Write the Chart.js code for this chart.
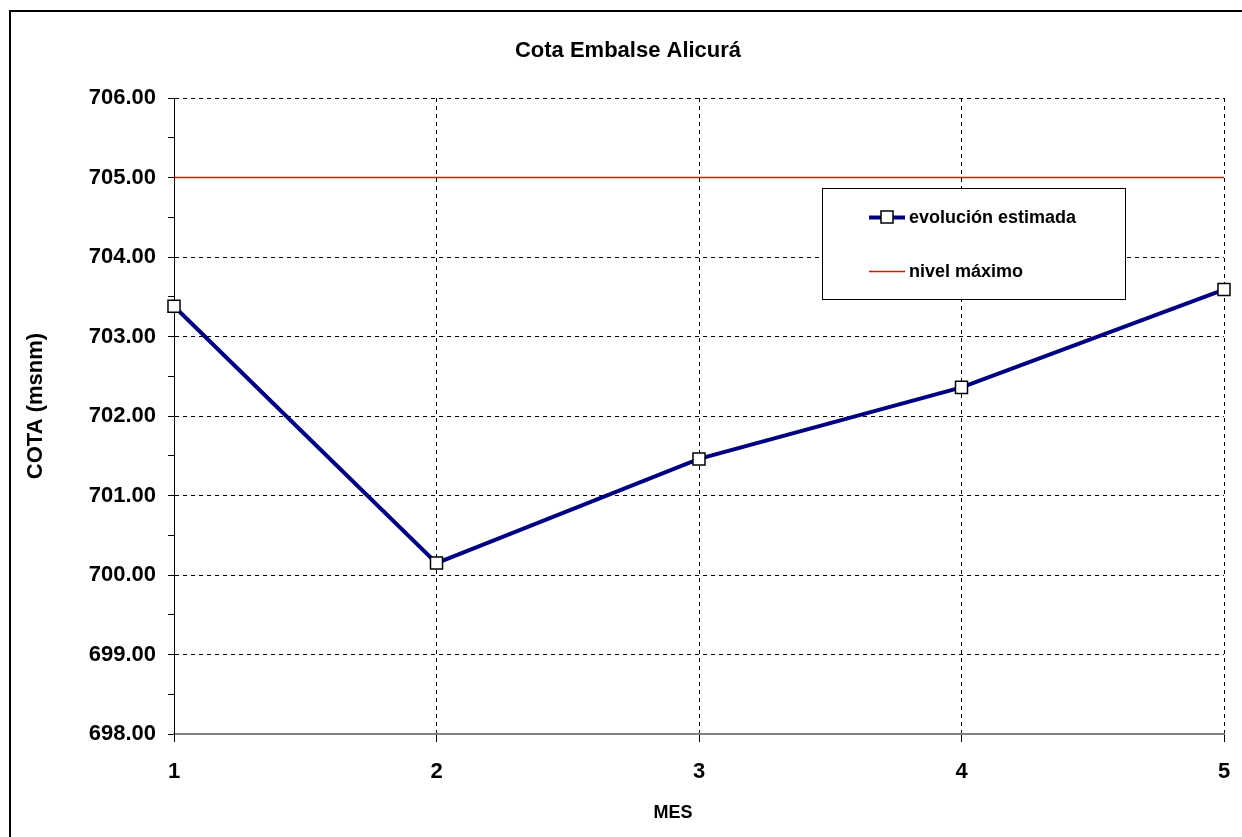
<!DOCTYPE html>
<html>
<head>
<meta charset="utf-8">
<script src="https://cdn.jsdelivr.net/npm/chart.js@4/dist/chart.umd.min.js"></script>
<style>
  html, body { margin: 0; padding: 0; background: #fff; overflow: hidden; }
  canvas { display: block; }
</style>
</head>
<body>
<canvas id="cotaChart" width="1242" height="837"></canvas>
<script>
// Monthly reservoir level (m.s.n.m.)
const meses = ['1', '2', '3', '4', '5'];
const evolucionEstimada = [703.38, 700.15, 701.46, 702.36, 703.59];
const nivelMaximo = [705, 705, 705, 705, 705];
const yMin = 698;
const yMax = 706;

const FONT = "'Liberation Sans', Arial, sans-serif";
Chart.defaults.font.family = FONT;
Chart.defaults.color = '#000';

/**
 * Outer frame, titles and the boxed legend
 */
const decorations = {
  id: 'decorations',
  beforeDraw(chart) {
    const { ctx } = chart;
    ctx.save();
    ctx.fillStyle = '#fff';
    ctx.fillRect(0, 0, chart.width, chart.height);
    ctx.strokeStyle = '#000';
    ctx.lineWidth = 2;
    ctx.beginPath();
    ctx.moveTo(10, chart.height + 5);
    ctx.lineTo(10, 11);
    ctx.lineTo(chart.width + 5, 11);
    ctx.stroke();
    ctx.restore();
  },
  afterDraw(chart) {
    const { ctx } = chart;
    ctx.save();
    ctx.fillStyle = '#000';
    ctx.textAlign = 'center';
    ctx.textBaseline = 'middle';

    ctx.font = `bold 22px ${FONT}`;
    ctx.fillText('Cota Embalse Alicurá', 628, 51);

    ctx.font = `bold 18px ${FONT}`;
    ctx.fillText('MES', 673, 813);

    ctx.save();
    ctx.translate(36, 406);
    ctx.rotate(-Math.PI / 2);
    ctx.font = `bold 22px ${FONT}`;
    ctx.fillText('COTA (msnm)', 0, 0);
    ctx.restore();

    // legend box
    const box = { x: 822, y: 188, w: 303, h: 111 };
    ctx.fillStyle = '#fff';
    ctx.fillRect(box.x, box.y, box.w, box.h);
    ctx.strokeStyle = '#000';
    ctx.lineWidth = 1;
    ctx.strokeRect(box.x + 0.5, box.y + 0.5, box.w, box.h);

    const rows = [217, 271];
    chart.data.datasets.forEach((ds, i) => {
      const y = rows[i];
      ctx.strokeStyle = ds.borderColor;
      ctx.lineWidth = ds.borderWidth;
      ctx.beginPath();
      ctx.moveTo(869, y + 0.5);
      ctx.lineTo(905, y + 0.5);
      ctx.stroke();
      if (ds.pointRadius > 0) {
        ctx.fillStyle = ds.pointBackgroundColor;
        ctx.fillRect(881, y - 6, 12, 12);
        ctx.strokeStyle = ds.pointBorderColor;
        ctx.lineWidth = 1.5;
        ctx.strokeRect(881, y - 6, 12, 12);
      }
      ctx.fillStyle = '#000';
      ctx.textAlign = 'left';
      ctx.font = `bold 18px ${FONT}`;
      ctx.fillText(ds.label, 909, y + 1);
    });
    ctx.restore();
  }
};

new Chart(document.getElementById('cotaChart'), {
  type: 'line',
  data: {
    labels: meses,
    datasets: [
      {
        label: 'evolución estimada',
        data: evolucionEstimada,
        borderColor: '#000080',
        borderWidth: 4,
        tension: 0,
        pointStyle: 'rect',
        pointRadius: 8.5,
        pointBackgroundColor: '#fff',
        pointBorderColor: '#000',
        pointBorderWidth: 1.5,
        order: 1,
      },
      {
        label: 'nivel máximo',
        data: nivelMaximo,
        borderColor: '#ff0000',
        borderWidth: 1.5,
        pointRadius: 0,
        tension: 0,
        order: 2,
      },
    ],
  },
  options: {
    responsive: false,
    animation: false,
    layout: { padding: { left: 0, right: 18, top: 98, bottom: 0 } },
    plugins: {
      legend: { display: false },
      title: { display: false },
      tooltip: { enabled: false },
    },
    scales: {
      x: {
        type: 'category',
        offset: false,
        afterFit: (scale) => {
          scale.height = 103;
          scale.paddingLeft = 0;
          scale.paddingRight = 0;
        },
        grid: {
          color: (c) => (c.index === 0 ? 'rgba(0,0,0,0)' : '#000'),
          tickColor: '#000',
          lineWidth: 1,
          tickLength: 8,
        },
        border: { color: '#808080', width: 2, dash: [4, 4] },
        ticks: {
          padding: 17,
          maxRotation: 0,
          font: { size: 22, weight: 'bold' },
          color: '#000',
        },
      },
      y: {
        min: yMin,
        max: yMax,
        afterFit: (scale) => { scale.width = 174; },
        grid: {
          // dashed lines on whole values only; the red max-level line replaces its own
          color: (c) => {
            const v = c.tick ? c.tick.value : 0;
            const show = Number.isInteger(v) && v !== yMin && v !== nivelMaximo[0];
            return show ? '#000' : 'rgba(0,0,0,0)';
          },
          tickColor: '#000',
          lineWidth: 1,
          tickLength: 6,
        },
        border: { color: '#000', width: 1, dash: [4, 4] },
        ticks: {
          stepSize: 0.5,
          autoSkip: false,
          padding: 12,
          font: { size: 22, weight: 'bold' },
          color: '#000',
          callback: (v) => (Number.isInteger(v) ? v.toFixed(2) : ''),
        },
      },
    },
  },
  plugins: [decorations],
});
</script>
</body>
</html>
